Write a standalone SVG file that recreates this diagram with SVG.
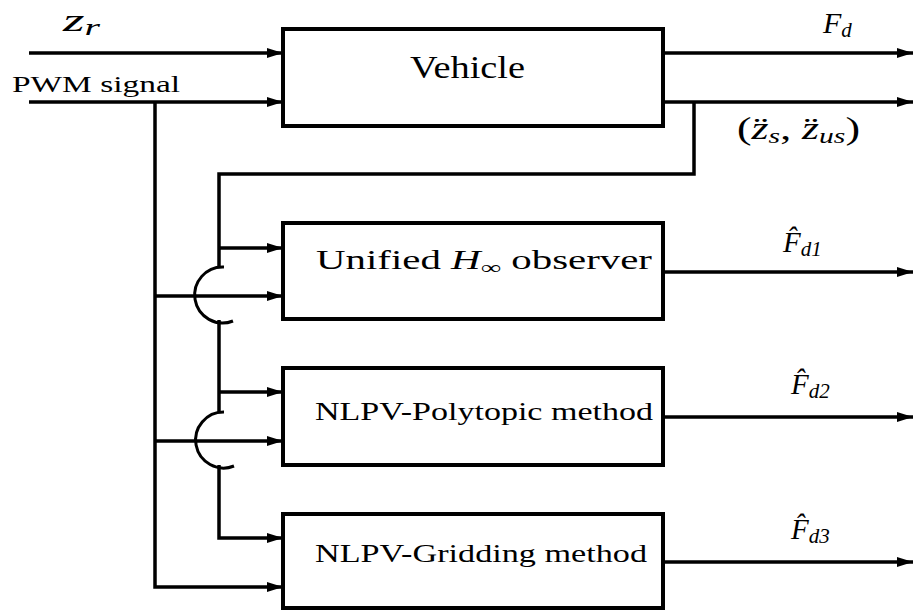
<svg xmlns="http://www.w3.org/2000/svg" width="914" height="610" viewBox="0 0 914 610">
<style>
.box{fill:#fff;stroke:#000;stroke-width:4}
.ln{fill:none;stroke:#000;stroke-width:3.5}
.arc{fill:none;stroke:#000;stroke-width:3}
</style>
<defs>
<marker id="ah" markerUnits="userSpaceOnUse" markerWidth="17" markerHeight="11" refX="16" refY="5.5" orient="auto">
<path d="M0,0.5 L16,5.5 L0,10.5 z" fill="#000"/>
</marker>
</defs>
<rect width="914" height="610" fill="#fff"/>

<g id="connectors">
<line class="ln" x1="29" y1="53" x2="283" y2="53" marker-end="url(#ah)"/>
<line class="ln" x1="29" y1="102" x2="283" y2="102" marker-end="url(#ah)"/>
<polyline class="ln" points="155,102 155,587 283,587" marker-end="url(#ah)"/>
<line class="ln" x1="155" y1="296" x2="283" y2="296" marker-end="url(#ah)"/>
<line class="ln" x1="155" y1="441" x2="283" y2="441" marker-end="url(#ah)"/>
<line class="ln" x1="663" y1="53" x2="913" y2="53" marker-end="url(#ah)"/>
<line class="ln" x1="663" y1="102" x2="913" y2="102" marker-end="url(#ah)"/>
<polyline class="ln" points="694,102 694,174 219,174 219,268"/>
<line class="ln" x1="219" y1="248" x2="283" y2="248" marker-end="url(#ah)"/>
<path class="arc" d="M224,267 A28,28 0 1 0 233,321"/>
<line class="ln" x1="219" y1="320" x2="219" y2="413"/>
<line class="ln" x1="219" y1="392" x2="283" y2="392" marker-end="url(#ah)"/>
<path class="arc" d="M224,412 A28,28 0 1 0 234,466"/>
<polyline class="ln" points="219,465 219,538 283,538" marker-end="url(#ah)"/>
<line class="ln" x1="663" y1="272" x2="913" y2="272" marker-end="url(#ah)"/>
<line class="ln" x1="663" y1="417" x2="913" y2="417" marker-end="url(#ah)"/>
<line class="ln" x1="663" y1="562" x2="913" y2="562" marker-end="url(#ah)"/>
</g>

<g id="vehicle">
<rect class="box" x="283" y="29" width="380" height="97"/>
<text font-family="Liberation Serif, serif" x="410" y="78" font-size="32" textLength="115" lengthAdjust="spacingAndGlyphs">Vehicle</text>
</g>

<g id="unified">
<rect class="box" x="283" y="223" width="380" height="96"/>
<text font-family="Liberation Serif, serif" x="316" y="269" font-size="27" textLength="336" lengthAdjust="spacingAndGlyphs">Unified <tspan font-style="italic">H</tspan><tspan font-size="19" dy="5">∞</tspan><tspan dy="-5"> observer</tspan></text>
</g>

<g id="polytopic">
<rect class="box" x="283" y="368" width="380" height="97"/>
<text font-family="Liberation Serif, serif" x="315" y="420" font-size="25" textLength="338" lengthAdjust="spacingAndGlyphs">NLPV-Polytopic method</text>
</g>

<g id="gridding">
<rect class="box" x="283" y="514" width="380" height="94"/>
<text font-family="Liberation Serif, serif" x="315" y="562" font-size="25" textLength="332" lengthAdjust="spacingAndGlyphs">NLPV-Gridding method</text>
</g>

<g id="labels" font-family="Liberation Serif, serif">
<text font-style="italic" x="63" y="31" font-size="32" textLength="37" lengthAdjust="spacingAndGlyphs">z<tspan font-size="23" dy="4">r</tspan></text>
<text x="12" y="92" font-size="24" textLength="168" lengthAdjust="spacingAndGlyphs">PWM signal</text>
<text font-style="italic" x="823" y="33" font-size="30">F<tspan font-size="21" dy="4">d</tspan></text>
<text x="737" y="139" font-size="31" textLength="123" lengthAdjust="spacingAndGlyphs">(<tspan font-style="italic">z̈</tspan><tspan font-style="italic" font-size="21" dy="4">s</tspan><tspan dy="-4">, </tspan><tspan font-style="italic">z̈</tspan><tspan font-style="italic" font-size="21" dy="4">us</tspan><tspan dy="-4">)</tspan></text>
<text font-style="italic" x="783" y="252" font-size="29">F̂<tspan font-size="21" dy="4">d1</tspan></text>
<text font-style="italic" x="791" y="394" font-size="29">F̂<tspan font-size="21" dy="4">d2</tspan></text>
<text font-style="italic" x="791" y="539" font-size="29">F̂<tspan font-size="21" dy="4">d3</tspan></text>
</g>
</svg>
